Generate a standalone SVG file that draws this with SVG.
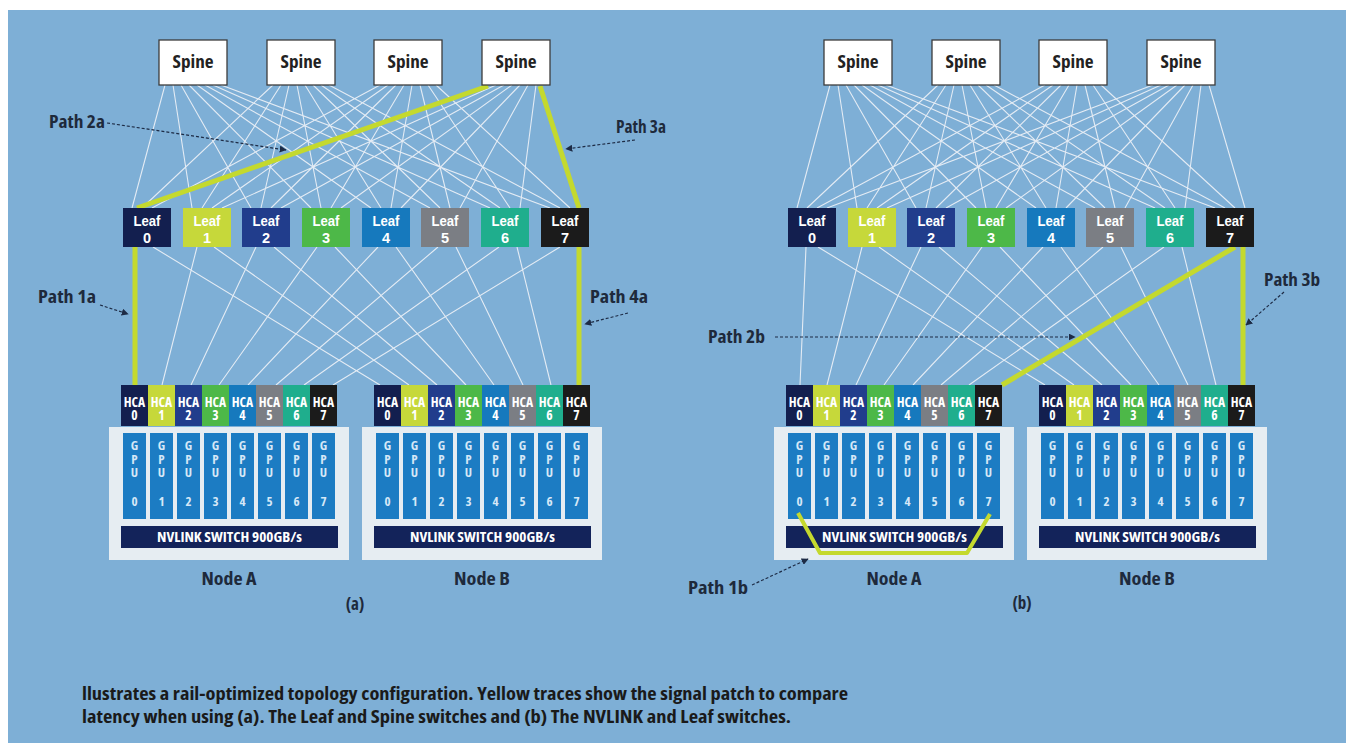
<svg xmlns="http://www.w3.org/2000/svg" xmlns:xlink="http://www.w3.org/1999/xlink" width="1346" height="743" viewBox="0 0 1346 743">
<style>
text{font-family:"Open Sans","Noto Sans","Liberation Sans",sans-serif;font-weight:700;font-stretch:condensed}
.spine{fill:#fff;stroke:#3c3c3c;stroke-width:1.3}
.st{font-size:18px;fill:#222;text-anchor:middle}
.lt{font-family:"Liberation Sans",Arial,sans-serif;font-size:14.5px;fill:#fff;text-anchor:middle}
.ht{font-size:13.5px;fill:#fff;text-anchor:middle}
.gt{font-size:13px;fill:#d6e8f7;text-anchor:middle}
.nv{font-size:14px;fill:#fff;text-anchor:middle}
.nd{font-size:18px;fill:#1e2a3c;text-anchor:middle}
.pl{font-size:17px;fill:#1e2a3c}
.cap{font-size:18px;fill:#1a1a1a}
.wl{stroke:#eef2f7;stroke-width:1.1;fill:none;opacity:0.9}
.yl{stroke:#c4d92e;stroke-width:5;fill:none;stroke-linejoin:round}
.ar{stroke:#1d2b45;stroke-width:1.2;stroke-dasharray:3 2;fill:none;marker-end:url(#ah)}
.c0{fill:#131f4f}.c1{fill:#c6d83a}.c2{fill:#213d8c}.c3{fill:#4db848}.c4{fill:#1679bd}.c5{fill:#7b7e84}.c6{fill:#1fae8d}.c7{fill:#1b1b1b}
.gpu{fill:#1c7cc3}
</style>
<defs>
<marker id="ah" viewBox="0 0 10 10" refX="9" refY="5" markerWidth="7" markerHeight="7" orient="auto" markerUnits="userSpaceOnUse">
<path d="M0 0L10 5L0 10z" fill="#1d2b45"/>
</marker>
<g id="server">
<rect x="-12" y="42" width="240" height="133" fill="#e6edf2"/>
<rect class="c0" x="0" y="0" width="27" height="41"/>
<rect class="c1" x="27" y="0" width="27" height="41"/>
<rect class="c2" x="54" y="0" width="27" height="41"/>
<rect class="c3" x="81" y="0" width="27" height="41"/>
<rect class="c4" x="108" y="0" width="27" height="41"/>
<rect class="c5" x="135" y="0" width="27" height="41"/>
<rect class="c6" x="162" y="0" width="27" height="41"/>
<rect class="c7" x="189" y="0" width="27" height="41"/>
<text class="ht"><tspan x="13.5" y="22">HCA</tspan><tspan x="13.5" y="35">0</tspan></text>
<text class="ht"><tspan x="40.5" y="22">HCA</tspan><tspan x="40.5" y="35">1</tspan></text>
<text class="ht"><tspan x="67.5" y="22">HCA</tspan><tspan x="67.5" y="35">2</tspan></text>
<text class="ht"><tspan x="94.5" y="22">HCA</tspan><tspan x="94.5" y="35">3</tspan></text>
<text class="ht"><tspan x="121.5" y="22">HCA</tspan><tspan x="121.5" y="35">4</tspan></text>
<text class="ht"><tspan x="148.5" y="22">HCA</tspan><tspan x="148.5" y="35">5</tspan></text>
<text class="ht"><tspan x="175.5" y="22">HCA</tspan><tspan x="175.5" y="35">6</tspan></text>
<text class="ht"><tspan x="202.5" y="22">HCA</tspan><tspan x="202.5" y="35">7</tspan></text>
<rect class="gpu" x="2" y="48" width="23" height="86"/>
<rect class="gpu" x="29" y="48" width="23" height="86"/>
<rect class="gpu" x="56" y="48" width="23" height="86"/>
<rect class="gpu" x="83" y="48" width="23" height="86"/>
<rect class="gpu" x="110" y="48" width="23" height="86"/>
<rect class="gpu" x="137" y="48" width="23" height="86"/>
<rect class="gpu" x="164" y="48" width="23" height="86"/>
<rect class="gpu" x="191" y="48" width="23" height="86"/>
<text class="gt"><tspan x="13.5" y="65">G</tspan><tspan x="13.5" y="79">P</tspan><tspan x="13.5" y="92">U</tspan><tspan x="13.5" y="121">0</tspan></text>
<text class="gt"><tspan x="40.5" y="65">G</tspan><tspan x="40.5" y="79">P</tspan><tspan x="40.5" y="92">U</tspan><tspan x="40.5" y="121">1</tspan></text>
<text class="gt"><tspan x="67.5" y="65">G</tspan><tspan x="67.5" y="79">P</tspan><tspan x="67.5" y="92">U</tspan><tspan x="67.5" y="121">2</tspan></text>
<text class="gt"><tspan x="94.5" y="65">G</tspan><tspan x="94.5" y="79">P</tspan><tspan x="94.5" y="92">U</tspan><tspan x="94.5" y="121">3</tspan></text>
<text class="gt"><tspan x="121.5" y="65">G</tspan><tspan x="121.5" y="79">P</tspan><tspan x="121.5" y="92">U</tspan><tspan x="121.5" y="121">4</tspan></text>
<text class="gt"><tspan x="148.5" y="65">G</tspan><tspan x="148.5" y="79">P</tspan><tspan x="148.5" y="92">U</tspan><tspan x="148.5" y="121">5</tspan></text>
<text class="gt"><tspan x="175.5" y="65">G</tspan><tspan x="175.5" y="79">P</tspan><tspan x="175.5" y="92">U</tspan><tspan x="175.5" y="121">6</tspan></text>
<text class="gt"><tspan x="202.5" y="65">G</tspan><tspan x="202.5" y="79">P</tspan><tspan x="202.5" y="92">U</tspan><tspan x="202.5" y="121">7</tspan></text>
<rect x="0" y="141" width="217" height="22" fill="#13235a"/>
<text class="nv" x="108.5" y="157" textLength="145" lengthAdjust="spacingAndGlyphs">NVLINK SWITCH 900GB/s</text>
</g>
</defs>
<rect x="0" y="0" width="1346" height="743" fill="#fff"/>
<rect x="8" y="10" width="1338" height="733" fill="#7eafd6"/>

<g id="connectors">
<path class="wl" d="M165 85L132 208M173 85L192 208M181 85L251 208M189 85L311 208M197 85L371 208M205 85L430 208M213 85L490 208M221 85L550 208M273 85L142 208M281 85L202 208M289 85L261 208M297 85L321 208M305 85L381 208M313 85L440 208M321 85L500 208M329 85L560 208M380 85L152 208M388 85L212 208M396 85L271 208M404 85L331 208M412 85L391 208M420 85L450 208M428 85L510 208M436 85L570 208M496 85L222 208M504 85L281 208M512 85L341 208M520 85L401 208M528 85L460 208M536 85L520 208"/>
<path class="wl" d="M830 85L797 208M838 85L857 208M846 85L916 208M854 85L976 208M862 85L1036 208M870 85L1095 208M878 85L1155 208M886 85L1215 208M938 85L807 208M946 85L867 208M954 85L926 208M962 85L986 208M970 85L1046 208M978 85L1105 208M986 85L1165 208M994 85L1225 208M1045 85L817 208M1053 85L877 208M1061 85L936 208M1069 85L996 208M1077 85L1056 208M1085 85L1115 208M1093 85L1175 208M1101 85L1235 208M1153 85L827 208M1161 85L887 208M1169 85L946 208M1177 85L1006 208M1185 85L1066 208M1193 85L1125 208M1201 85L1185 208M1209 85L1245 208"/>
<path class="wl" d="M197 247L162 385M256 247L191 385M317 247L219 385M378 247L248 385M438 247L276 385M499 247L304 385M560 247L333 385M153 247L380 385M214 247L409 385M274 247L437 385M335 247L466 385M396 247L494 385M456 247L523 385M517 247L551 385"/>
<path class="wl" d="M806 247L800 385M862 247L827 385M921 247L856 385M982 247L884 385M1043 247L913 385M1103 247L941 385M1164 247L969 385M818 247L1045 385M879 247L1074 385M939 247L1102 385M1000 247L1131 385M1061 247L1159 385M1121 247L1188 385M1182 247L1216 385"/>
<path id="path2a" class="yl" d="M488 86L137 208"/>
<path id="path3a" class="yl" d="M540 86L579 208"/>
<path id="path1a" class="yl" d="M135 247L135 385"/>
<path id="path4a" class="yl" d="M579 247L579 385"/>
<path id="path2b" class="yl" d="M1235 247L1002 385"/>
<path id="path3b" class="yl" d="M1243 247L1243 385"/>
</g>

<g id="spines-a">
<g id="spine-a1"><rect class="spine" x="159" y="40" width="68" height="45"/><text class="st" x="193" y="68" textLength="41" lengthAdjust="spacingAndGlyphs">Spine</text></g>
<g id="spine-a2"><rect class="spine" x="267" y="40" width="68" height="45"/><text class="st" x="301" y="68" textLength="41" lengthAdjust="spacingAndGlyphs">Spine</text></g>
<g id="spine-a3"><rect class="spine" x="374" y="40" width="68" height="45"/><text class="st" x="408" y="68" textLength="41" lengthAdjust="spacingAndGlyphs">Spine</text></g>
<g id="spine-a4"><rect class="spine" x="482" y="40" width="68" height="45"/><text class="st" x="516" y="68" textLength="41" lengthAdjust="spacingAndGlyphs">Spine</text></g>
</g>
<g id="spines-b">
<g id="spine-b1"><rect class="spine" x="824" y="40" width="68" height="45"/><text class="st" x="858" y="68" textLength="41" lengthAdjust="spacingAndGlyphs">Spine</text></g>
<g id="spine-b2"><rect class="spine" x="932" y="40" width="68" height="45"/><text class="st" x="966" y="68" textLength="41" lengthAdjust="spacingAndGlyphs">Spine</text></g>
<g id="spine-b3"><rect class="spine" x="1039" y="40" width="68" height="45"/><text class="st" x="1073" y="68" textLength="41" lengthAdjust="spacingAndGlyphs">Spine</text></g>
<g id="spine-b4"><rect class="spine" x="1147" y="40" width="68" height="45"/><text class="st" x="1181" y="68" textLength="41" lengthAdjust="spacingAndGlyphs">Spine</text></g>
</g>

<g id="leaves-a">
<g id="leaf-a0"><rect class="c0" x="123" y="208" width="48" height="39"/><text class="lt"><tspan x="147" y="226" textLength="27" lengthAdjust="spacingAndGlyphs">Leaf</tspan><tspan x="147" y="242.5">0</tspan></text></g>
<g id="leaf-a1"><rect class="c1" x="183" y="208" width="48" height="39"/><text class="lt"><tspan x="207" y="226" textLength="27" lengthAdjust="spacingAndGlyphs">Leaf</tspan><tspan x="207" y="242.5">1</tspan></text></g>
<g id="leaf-a2"><rect class="c2" x="242" y="208" width="48" height="39"/><text class="lt"><tspan x="266" y="226" textLength="27" lengthAdjust="spacingAndGlyphs">Leaf</tspan><tspan x="266" y="242.5">2</tspan></text></g>
<g id="leaf-a3"><rect class="c3" x="302" y="208" width="48" height="39"/><text class="lt"><tspan x="326" y="226" textLength="27" lengthAdjust="spacingAndGlyphs">Leaf</tspan><tspan x="326" y="242.5">3</tspan></text></g>
<g id="leaf-a4"><rect class="c4" x="362" y="208" width="48" height="39"/><text class="lt"><tspan x="386" y="226" textLength="27" lengthAdjust="spacingAndGlyphs">Leaf</tspan><tspan x="386" y="242.5">4</tspan></text></g>
<g id="leaf-a5"><rect class="c5" x="421" y="208" width="48" height="39"/><text class="lt"><tspan x="445" y="226" textLength="27" lengthAdjust="spacingAndGlyphs">Leaf</tspan><tspan x="445" y="242.5">5</tspan></text></g>
<g id="leaf-a6"><rect class="c6" x="481" y="208" width="48" height="39"/><text class="lt"><tspan x="505" y="226" textLength="27" lengthAdjust="spacingAndGlyphs">Leaf</tspan><tspan x="505" y="242.5">6</tspan></text></g>
<g id="leaf-a7"><rect class="c7" x="541" y="208" width="48" height="39"/><text class="lt"><tspan x="565" y="226" textLength="27" lengthAdjust="spacingAndGlyphs">Leaf</tspan><tspan x="565" y="242.5">7</tspan></text></g>
</g>
<g id="leaves-b">
<g id="leaf-b0"><rect class="c0" x="788" y="208" width="48" height="39"/><text class="lt"><tspan x="812" y="226" textLength="27" lengthAdjust="spacingAndGlyphs">Leaf</tspan><tspan x="812" y="242.5">0</tspan></text></g>
<g id="leaf-b1"><rect class="c1" x="848" y="208" width="48" height="39"/><text class="lt"><tspan x="872" y="226" textLength="27" lengthAdjust="spacingAndGlyphs">Leaf</tspan><tspan x="872" y="242.5">1</tspan></text></g>
<g id="leaf-b2"><rect class="c2" x="907" y="208" width="48" height="39"/><text class="lt"><tspan x="931" y="226" textLength="27" lengthAdjust="spacingAndGlyphs">Leaf</tspan><tspan x="931" y="242.5">2</tspan></text></g>
<g id="leaf-b3"><rect class="c3" x="967" y="208" width="48" height="39"/><text class="lt"><tspan x="991" y="226" textLength="27" lengthAdjust="spacingAndGlyphs">Leaf</tspan><tspan x="991" y="242.5">3</tspan></text></g>
<g id="leaf-b4"><rect class="c4" x="1027" y="208" width="48" height="39"/><text class="lt"><tspan x="1051" y="226" textLength="27" lengthAdjust="spacingAndGlyphs">Leaf</tspan><tspan x="1051" y="242.5">4</tspan></text></g>
<g id="leaf-b5"><rect class="c5" x="1086" y="208" width="48" height="39"/><text class="lt"><tspan x="1110" y="226" textLength="27" lengthAdjust="spacingAndGlyphs">Leaf</tspan><tspan x="1110" y="242.5">5</tspan></text></g>
<g id="leaf-b6"><rect class="c6" x="1146" y="208" width="48" height="39"/><text class="lt"><tspan x="1170" y="226" textLength="27" lengthAdjust="spacingAndGlyphs">Leaf</tspan><tspan x="1170" y="242.5">6</tspan></text></g>
<g id="leaf-b7"><rect class="c7" x="1206" y="208" width="48" height="39"/><text class="lt"><tspan x="1230" y="226" textLength="27" lengthAdjust="spacingAndGlyphs">Leaf</tspan><tspan x="1230" y="242.5">7</tspan></text></g>
</g>

<g id="nodeA-a"><use xlink:href="#server" href="#server" transform="translate(121,385)"/><text class="nd" x="229" y="585" textLength="55" lengthAdjust="spacingAndGlyphs">Node A</text></g>
<g id="nodeB-a"><use xlink:href="#server" href="#server" transform="translate(374,385)"/><text class="nd" x="482" y="585" textLength="56" lengthAdjust="spacingAndGlyphs">Node B</text></g>
<g id="nodeA-b"><use xlink:href="#server" href="#server" transform="translate(786,385)"/><text class="nd" x="894" y="585" textLength="55" lengthAdjust="spacingAndGlyphs">Node A</text></g>
<g id="nodeB-b"><use xlink:href="#server" href="#server" transform="translate(1039,385)"/><text class="nd" x="1147" y="585" textLength="56" lengthAdjust="spacingAndGlyphs">Node B</text></g>

<g id="connectors-overlay">
<path id="path1b" class="yl" style="stroke-width:4" d="M798 513L820 553L967 553L990 514"/>
<path class="ar" d="M107 123L286 150"/>
<path class="ar" d="M635 140L566 149"/>
<path class="ar" d="M100 305L128 314"/>
<path class="ar" d="M628 313L585 324"/>
<path class="ar" d="M775 337L1075 337"/>
<path class="ar" d="M1284 292L1246 325"/>
<path class="ar" d="M752 585L808 559"/>
</g>

<g id="labels">
<text class="pl" x="49" y="128" textLength="56" lengthAdjust="spacingAndGlyphs">Path 2a</text>
<text class="pl" x="616" y="133" textLength="50" lengthAdjust="spacingAndGlyphs">Path 3a</text>
<text class="pl" x="38" y="303" textLength="58" lengthAdjust="spacingAndGlyphs">Path 1a</text>
<text class="pl" x="590" y="303" textLength="58" lengthAdjust="spacingAndGlyphs">Path 4a</text>
<text class="pl" x="708" y="343" textLength="57" lengthAdjust="spacingAndGlyphs">Path 2b</text>
<text class="pl" x="1264" y="286" textLength="56" lengthAdjust="spacingAndGlyphs">Path 3b</text>
<text class="pl" x="688" y="594" textLength="60" lengthAdjust="spacingAndGlyphs">Path 1b</text>
<text class="pl" x="355" y="610" text-anchor="middle">(a)</text>
<text class="pl" x="1022" y="609" text-anchor="middle">(b)</text>
<text class="cap" x="82" y="700" textLength="766" lengthAdjust="spacingAndGlyphs">llustrates a rail-optimized topology configuration. Yellow traces show the signal patch to compare</text>
<text class="cap" x="82" y="723" textLength="709" lengthAdjust="spacingAndGlyphs">latency when using (a). The Leaf and Spine switches and (b) The NVLINK and Leaf switches.</text>
</g>
</svg>
